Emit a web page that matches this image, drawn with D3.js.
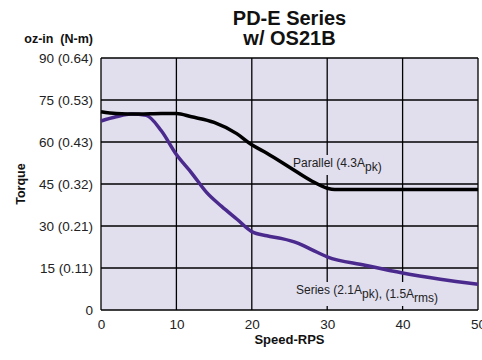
<!DOCTYPE html>
<html>
<head>
<meta charset="utf-8">
<script src="https://cdn.jsdelivr.net/npm/d3@7"></script>
<style>
  html, body { margin: 0; padding: 0; background: #fff; }
  svg { display: block; font-family: "Liberation Sans", Arial, Helvetica, sans-serif; }
</style>
</head>
<body>
<svg id="chart" width="482" height="360"></svg>
<script>
// ---- data ----
const titleLines = ["PD-E Series", "w/ OS21B"];
const xTicks = [0, 10, 20, 30, 40, 50];
const yTicks = [0, 15, 30, 45, 60, 75, 90];
const yTickNm = ["", "(0.11)", "(0.21)", "(0.32)", "(0.43)", "(0.53)", "(0.64)"];

const parallelSpeed  = [0, 2, 5, 8, 10, 12, 15, 18, 20, 22, 25, 28, 30, 31, 35, 40, 45, 50];
const parallelTorque = [70.8, 70.2, 70, 70.2, 70.2, 69, 67, 63, 59, 56, 51, 46, 43.5, 43, 43, 43, 43, 43];

const seriesSpeed  = [0, 2, 4, 6, 8, 10, 12, 14, 16, 18, 20, 22, 24, 26, 28, 30, 35, 40, 45, 50];
const seriesTorque = [67.5, 69, 70, 69.5, 64, 55.5, 49, 42, 37, 32.5, 28, 26.5, 25.5, 24, 21.5, 19, 16, 13.2, 11, 9.2];

// ---- layout ----
const svg = d3.select("#chart");
const m = { left: 101, top: 58, right: 4, bottom: 50 };
const W = 482, H = 360;
const x = d3.scaleLinear().domain([0, 50]).range([m.left, W - m.right]);
const y = d3.scaleLinear().domain([0, 90]).range([H - m.bottom, m.top]);

const plotBg = "#e1deee";
const purple = "#4b2a8e";

// background
svg.append("rect")
  .attr("x", x(0)).attr("y", y(90))
  .attr("width", x(50) - x(0)).attr("height", y(0) - y(90))
  .attr("fill", plotBg);

// grid
const grid = svg.append("g").attr("stroke", "#000").attr("stroke-width", 1.3);
grid.selectAll("line.v").data(xTicks).enter().append("line")
  .attr("x1", d => x(d)).attr("x2", d => x(d))
  .attr("y1", y(0)).attr("y2", y(90));
grid.selectAll("line.h").data(yTicks).enter().append("line")
  .attr("x1", x(0)).attr("x2", x(50))
  .attr("y1", d => y(d)).attr("y2", d => y(d));

// axes labels via d3 axes (no lines)
const xAxis = svg.append("g")
  .attr("transform", `translate(0,${y(0)})`)
  .call(d3.axisBottom(x).tickValues(xTicks).tickSize(0).tickPadding(9));
xAxis.select(".domain").remove();
xAxis.selectAll("text").attr("font-size", 13.5).attr("fill", "#222")
  .attr("font-family", "Liberation Sans, Arial, sans-serif");

const yAxis = svg.append("g")
  .attr("transform", `translate(${x(0)},0)`)
  .call(d3.axisLeft(y).tickValues(yTicks).tickSize(0).tickPadding(8)
    .tickFormat((d, i) => yTickNm[i] ? `${d} ${yTickNm[i]}` : `${d}`));
yAxis.select(".domain").remove();
yAxis.selectAll("text").attr("font-size", 13.5).attr("fill", "#222")
  .attr("font-family", "Liberation Sans, Arial, sans-serif")
  .style("white-space", "pre");

// series labels with background boxes (hiding grid)
function label(xp, yp, parts) {
  const g = svg.append("g");
  const t = g.append("text").attr("x", xp).attr("y", yp)
    .attr("font-size", 12).attr("fill", "#222");
  parts.forEach(p => {
    if (p.sub) {
      t.append("tspan").attr("dy", 4).attr("font-size", 12).text(p.t);
      t.append("tspan").attr("dy", -4).text("");
    } else {
      t.append("tspan").text(p.t);
    }
  });
  const bb = t.node().getBBox();
  g.insert("rect", "text")
    .attr("x", bb.x - 2).attr("y", bb.y - 1)
    .attr("width", bb.width + 4).attr("height", bb.height + 2)
    .attr("fill", plotBg);
}
label(293, 167, [{ t: "Parallel (4.3A" }, { t: "pk", sub: true }, { t: ")" }]);
label(296, 294, [{ t: "Series (2.1A" }, { t: "pk", sub: true }, { t: "), (1.5A" }, { t: "rms", sub: true }, { t: ")" }]);

// curves
const line = d3.line().x(d => x(d[0])).y(d => y(d[1])).curve(d3.curveMonotoneX);
svg.append("path")
  .datum(seriesSpeed.map((s, i) => [s, seriesTorque[i]]))
  .attr("d", line).attr("fill", "none")
  .attr("stroke", purple).attr("stroke-width", 3.5);
svg.append("path")
  .datum(parallelSpeed.map((s, i) => [s, parallelTorque[i]]))
  .attr("d", line).attr("fill", "none")
  .attr("stroke", "#000").attr("stroke-width", 3.5);

// titles
const cx = (x(0) + x(50)) / 2;
svg.append("text").attr("x", cx).attr("y", 25).attr("text-anchor", "middle")
  .attr("font-size", 20).attr("font-weight", "bold").attr("fill", "#111").text(titleLines[0]);
svg.append("text").attr("x", cx).attr("y", 45).attr("text-anchor", "middle")
  .attr("font-size", 20).attr("font-weight", "bold").attr("fill", "#111").text(titleLines[1]);

svg.append("text").attr("x", 93).attr("y", 43).attr("text-anchor", "end")
  .attr("font-size", 12.5).attr("font-weight", "bold").attr("fill", "#111")
  .style("white-space", "pre").text("oz-in  (N-m)");

svg.append("text").attr("transform", `translate(25,${(y(0) + y(90)) / 2}) rotate(-90)`)
  .attr("text-anchor", "middle").attr("font-size", 12.5).attr("font-weight", "bold")
  .attr("fill", "#111").text("Torque");

svg.append("text").attr("x", cx).attr("y", 344).attr("text-anchor", "middle")
  .attr("font-size", 13).attr("font-weight", "bold").attr("fill", "#111").text("Speed-RPS");
</script>
</body>
</html>
